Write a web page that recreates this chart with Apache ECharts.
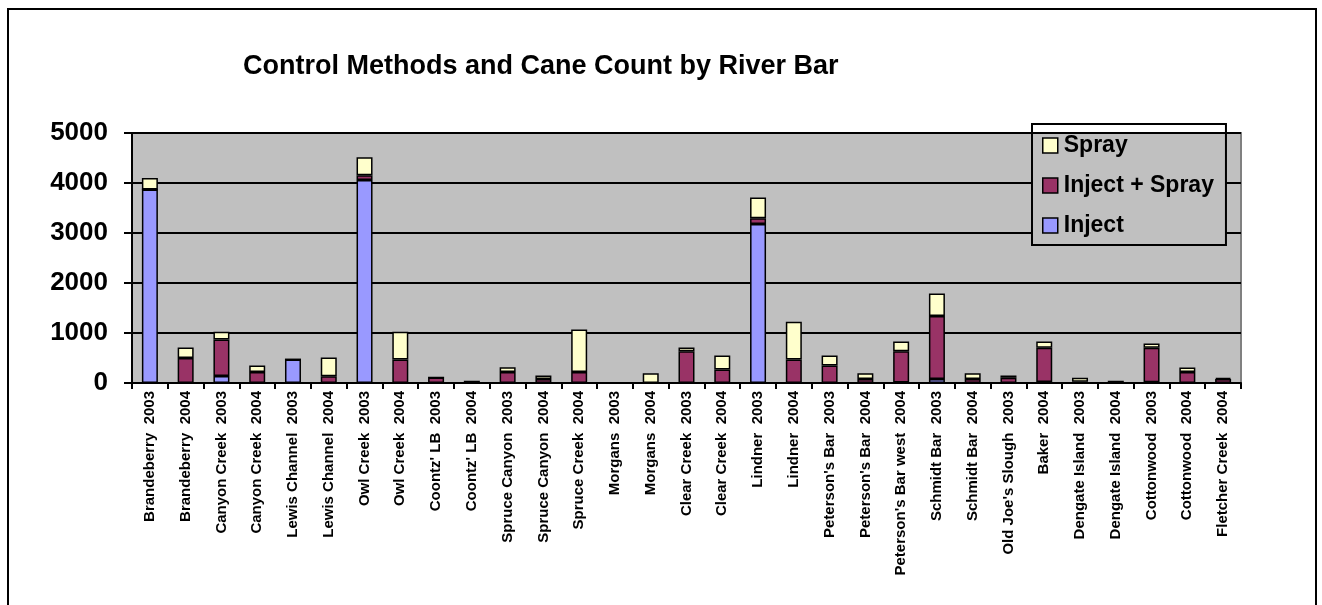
<!DOCTYPE html>
<html>
<head>
<meta charset="utf-8">
<script src="https://cdn.jsdelivr.net/npm/echarts@6/dist/echarts.min.js"></script>
<style>
  html, body { margin: 0; padding: 0; background: #ffffff; }
  #chart { width: 1322px; height: 605px; }
</style>
</head>
<body>
<div id="chart"></div>
<script>
// River bar sites (site + survey year)
const categories = [
  "Brandeberry  2003", "Brandeberry  2004", "Canyon Creek  2003", "Canyon Creek  2004",
  "Lewis Channel  2003", "Lewis Channel  2004", "Owl Creek  2003", "Owl Creek  2004",
  "Coontz' LB  2003", "Coontz' LB  2004", "Spruce Canyon  2003", "Spruce Canyon  2004",
  "Spruce Creek  2004", "Morgans  2003", "Morgans  2004", "Clear Creek  2003",
  "Clear Creek  2004", "Lindner  2003", "Lindner  2004", "Peterson's Bar  2003",
  "Peterson's Bar  2004", "Peterson's Bar west  2004", "Schmidt Bar  2003", "Schmidt Bar  2004",
  "Old Joe's Slough  2003", "Baker  2004", "Dengate Island  2003", "Dengate Island  2004",
  "Cottonwood  2003", "Cottonwood  2004", "Fletcher Creek  2004"
];

// Cane counts per control method
const injectValues = [
  3870, 0, 140, 0, 470, 0, 4060, 0, 0, 0, 0, 0, 0, 0, 0, 0,
  0, 3180, 0, 0, 0, 10, 80, 0, 0, 20, 0, 0, 15, 0, 0
];
const injectSprayValues = [
  0, 500, 730, 220, 0, 135, 95, 470, 110, 30, 220, 80, 220, 0, 0, 635,
  270, 115, 470, 350, 80, 625, 1260, 80, 105, 685, 25, 30, 690, 220, 80
];
const sprayValues = [
  230, 210, 155, 130, 0, 375, 360, 555, 0, 0, 95, 70, 850, 0, 195, 75,
  280, 415, 755, 200, 115, 195, 450, 115, 45, 125, 80, 0, 85, 90, 25
];

const yTicks = { min: 0, max: 5000, interval: 1000 };

const FONT = "'Liberation Sans', Arial, sans-serif";

const chart = echarts.init(document.getElementById('chart'), null, { renderer: 'canvas' });

const barBorder = { borderColor: '#000000', borderWidth: 1.5 };

function barSeries(name, values, color) {
  return {
    name: name,
    type: 'bar',
    stack: 'count',
    data: values,
    barWidth: 16,
    itemStyle: Object.assign({ color: color }, barBorder),
    emphasis: { disabled: true }
  };
}

chart.setOption({
  animation: false,
  backgroundColor: '#ffffff',
  title: {
    text: 'Control Methods and Cane Count by River Bar',
    left: 238,
    top: 48,
    textStyle: { fontFamily: FONT, fontSize: 27, fontWeight: 'bold', color: '#000000' }
  },
  grid: {
    left: 132, right: 81, top: 133, bottom: 222,
    show: true,
    backgroundColor: '#C0C0C0',
    borderColor: '#808080',
    borderWidth: 2
  },
  legend: {
    data: ['Spray', 'Inject + Spray', 'Inject'],
    orient: 'vertical',
    left: 1032,
    top: 124,
    padding: [10, 12, 8, 10],
    itemGap: 17,
    itemWidth: 15,
    itemHeight: 15,
    icon: 'rect',
    z: 6,
    borderColor: '#000000',
    borderWidth: 2,
    backgroundColor: 'transparent',
    itemStyle: { borderColor: '#000000', borderWidth: 1.5 },
    textStyle: { fontFamily: FONT, fontSize: 23, fontWeight: 'bold', color: '#000000', padding: [0, 0, 0, 1] },
    selectedMode: false
  },
  xAxis: {
    type: 'category',
    data: categories,
    axisLine: { lineStyle: { color: '#000000', width: 2 } },
    axisTick: { show: true, alignWithLabel: false, length: 6, lineStyle: { color: '#000000', width: 2 } },
    axisLabel: {
      interval: 0,
      rotate: 90,
      margin: 8,
      fontFamily: FONT,
      fontSize: 15,
      fontWeight: 'bold',
      color: '#000000'
    },
    splitLine: { show: false }
  },
  yAxis: {
    type: 'value',
    min: yTicks.min,
    max: yTicks.max,
    interval: yTicks.interval,
    axisLine: { show: true, lineStyle: { color: '#000000', width: 2 } },
    axisTick: { show: true, length: 8, lineStyle: { color: '#000000', width: 2 } },
    axisLabel: {
      margin: 24,
      fontFamily: FONT,
      fontSize: 26,
      fontWeight: 'bold',
      color: '#000000',
      formatter: function (v) { return String(v); }
    },
    splitLine: { show: true, lineStyle: { color: '#000000', width: 2 } }
  },
  series: [
    barSeries('Inject', injectValues, '#9999FF'),
    barSeries('Inject + Spray', injectSprayValues, '#993366'),
    barSeries('Spray', sprayValues, '#FFFFCC')
  ],
  graphic: [
    {
      // plot-coloured fill behind the legend so gridlines stop at its frame
      type: 'rect',
      silent: true,
      z: 5,
      shape: { x: 1033, y: 134, width: 192, height: 110 },
      style: { fill: '#C0C0C0', stroke: 'none' }
    },
    {
      type: 'rect',
      silent: true,
      z: 100,
      shape: { x: 8, y: 9, width: 1308, height: 640 },
      style: { fill: 'none', stroke: '#000000', lineWidth: 2 }
    }
  ]
});
</script>
</body>
</html>
